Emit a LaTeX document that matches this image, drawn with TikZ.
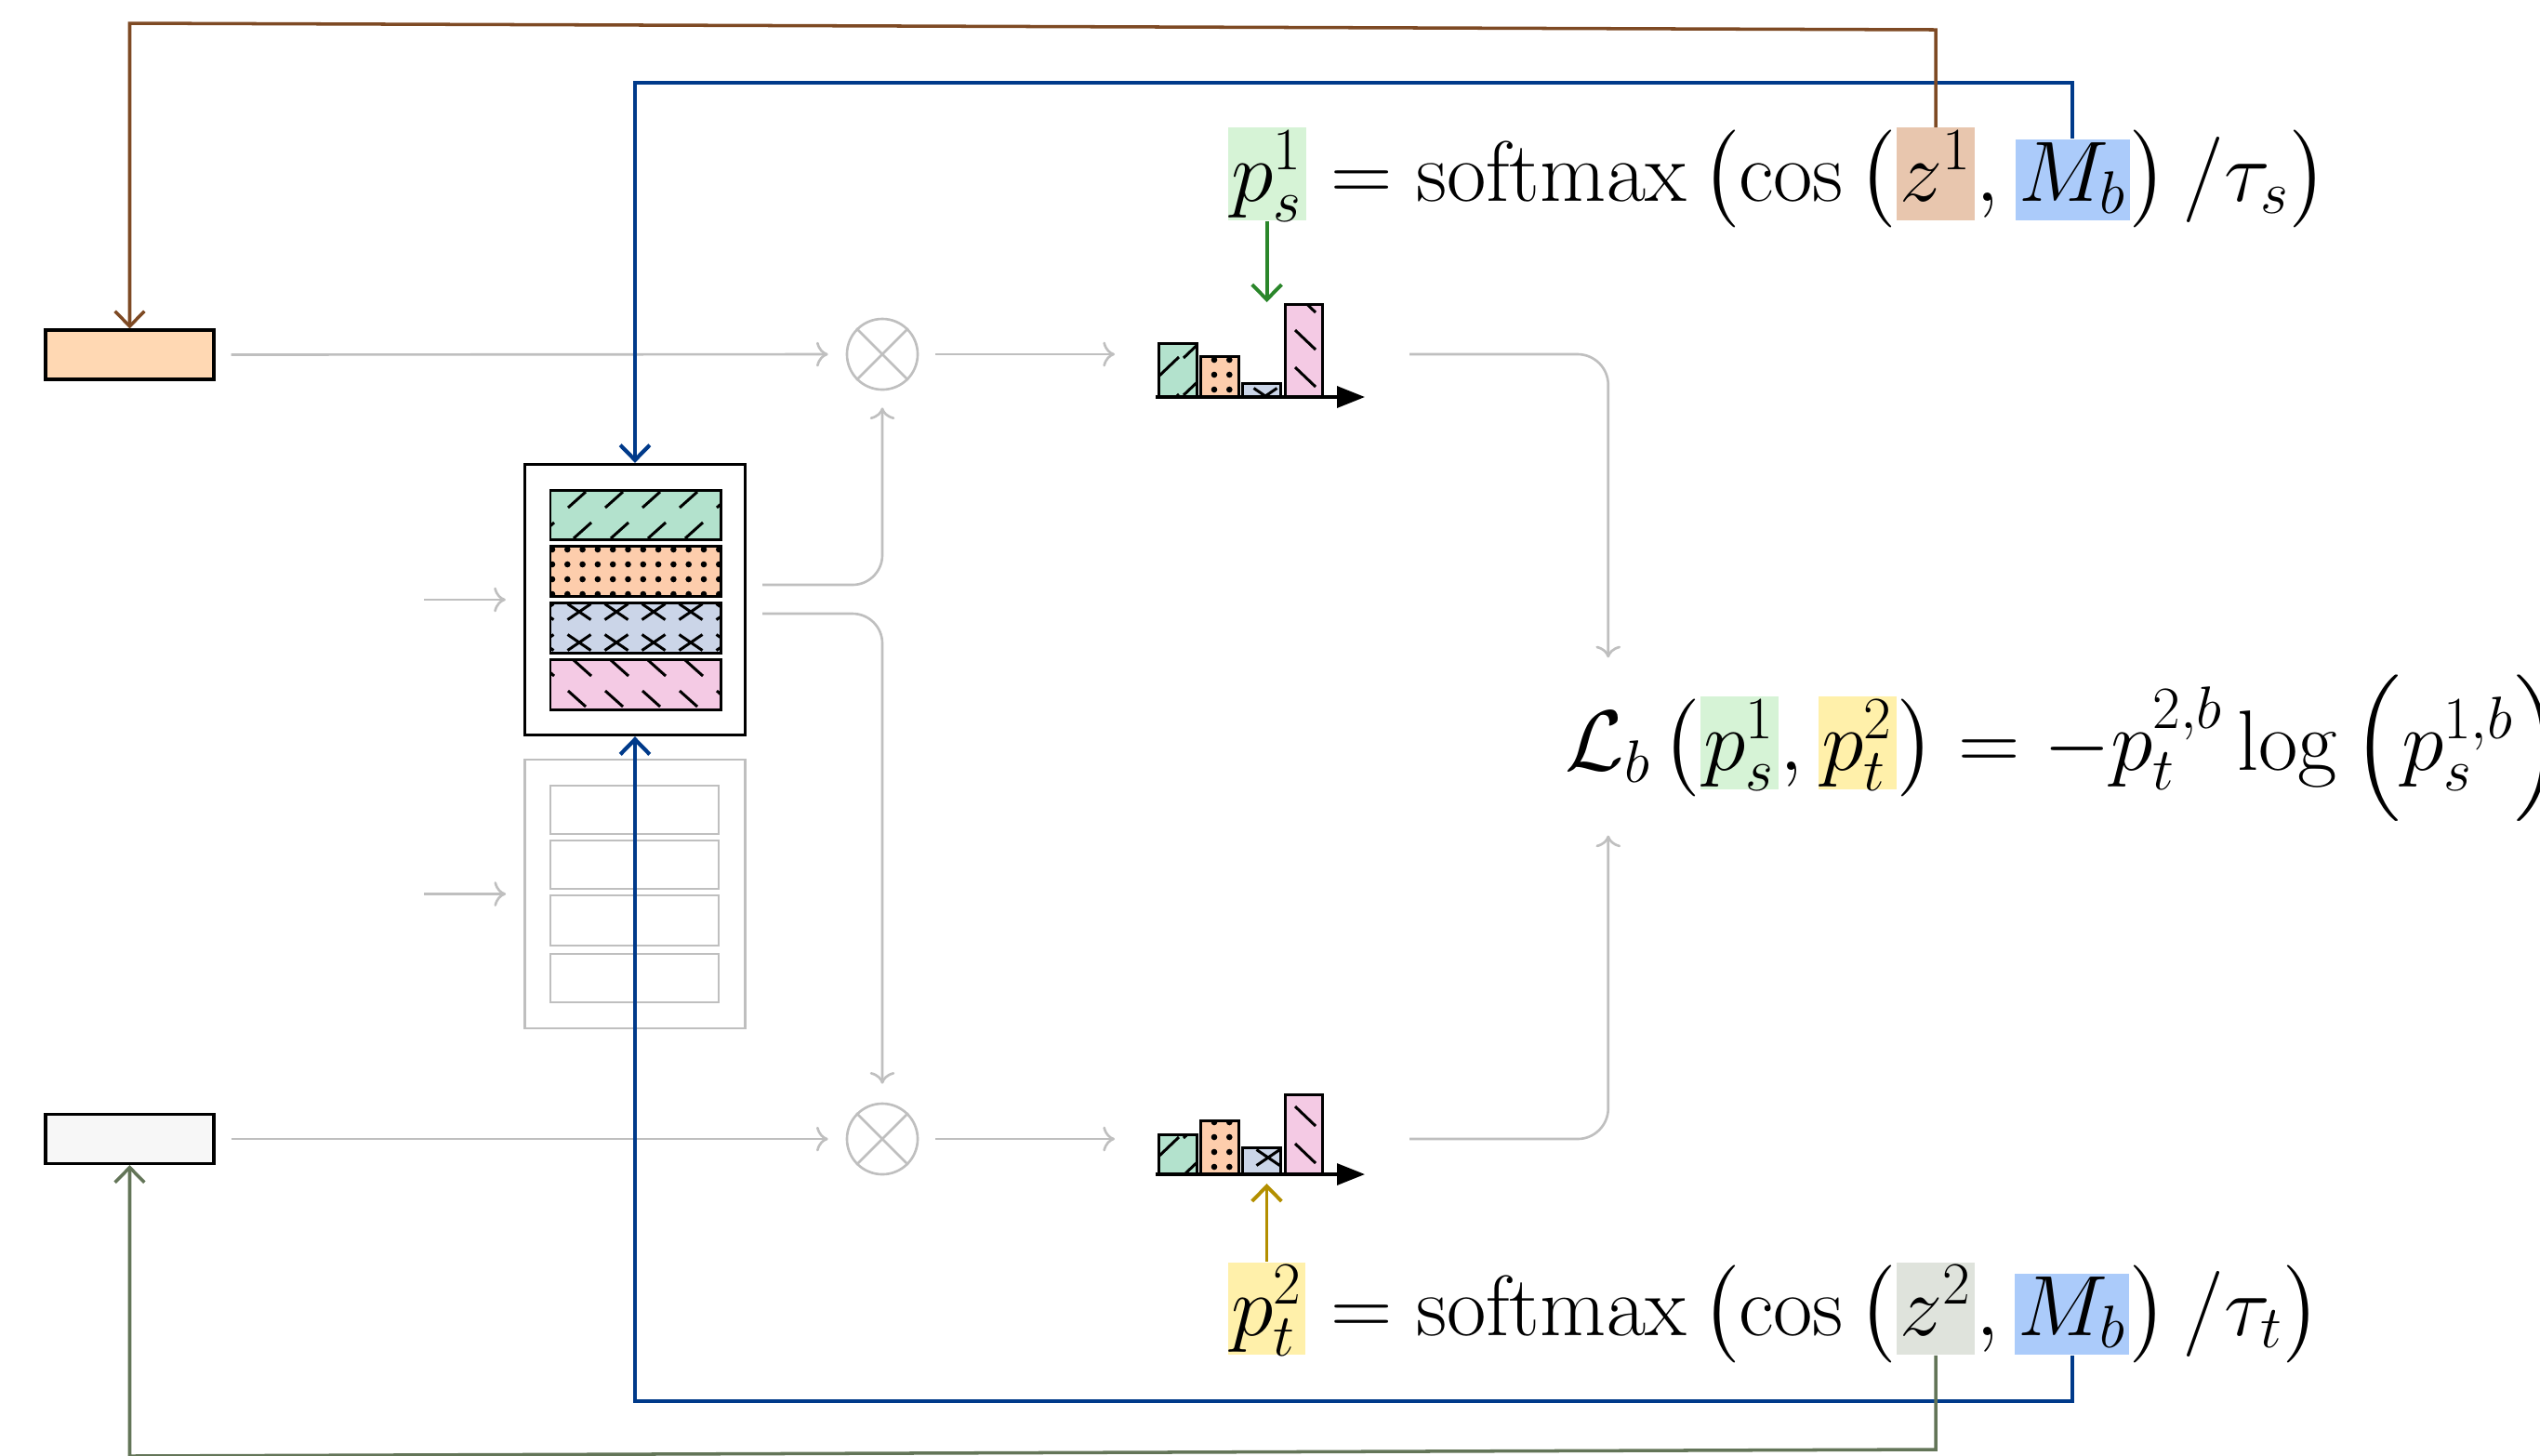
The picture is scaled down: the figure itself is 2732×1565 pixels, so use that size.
\RequirePackage{fix-cm}
\documentclass[tikz,border=0pt]{standalone}
\usepackage{amsmath}
\usetikzlibrary{arrows.meta}
\newcommand\fmfont{\fontsize{26.2}{37}\selectfont}
\definecolor{lgray}{RGB}{191,191,191}
\definecolor{pgreen}{HTML}{B3E2CD}
\definecolor{porange}{HTML}{FDCDAC}
\definecolor{pblue}{HTML}{CBD5E8}
\definecolor{ppink}{HTML}{F4CAE4}
\definecolor{inorange}{HTML}{FFD8B3}
\definecolor{ingray}{HTML}{F7F7F7}
\definecolor{cbrown}{HTML}{7E4A24}
\definecolor{cblue}{HTML}{003A8A}
\definecolor{cgreen}{HTML}{2A862A}
\definecolor{cgold}{HTML}{B38F00}
\definecolor{colive}{HTML}{637558}
\definecolor{hlgreen}{HTML}{D6F3D6}
\definecolor{hlyellow}{HTML}{FFF0AA}
\definecolor{hltan}{HTML}{E8C6AE}
\definecolor{hlgray}{HTML}{DFE3DC}
\definecolor{hlblue}{HTML}{ABCBFA}
% lattice parameters
\newcommand\latA{\def\lhx{40}\def\lsh{6}\def\lvy{33}\def\lsx{19}\def\lsy{17}}
\newcommand\latB{\def\lhx{54}\def\lsh{27}\def\lvy{20}\def\lsx{22}\def\lsy{21}}
% "/" strokes
\newcommand\pNE[6]{\begin{scope}\clip (#1,#2) rectangle (#3,#4);
  \foreach \j in {-2,...,6}{\foreach \i in {-5,...,5}{
    \draw[patln] ({#1+#5+\lhx*\i+\lsh*\j},{#2+#6+\lvy*\j}) -- ++(\lsx,-\lsy);}}
  \end{scope}}
% "\" strokes
\newcommand\pSE[6]{\begin{scope}\clip (#1,#2) rectangle (#3,#4);
  \foreach \j in {-2,...,6}{\foreach \i in {-5,...,5}{
    \draw[patln] ({#1+#5+\lhx*\i+\lsh*\j},{#2+#6+\lvy*\j}) -- ++(\lsx,\lsy);}}
  \end{scope}}
% crosses
\newcommand\pX[6]{\begin{scope}\clip (#1,#2) rectangle (#3,#4);
  \foreach \j in {-1,...,3}{\foreach \i in {-1,...,5}{
    \draw[patln] ({#1+#5+40*\i-12.5},{#2+#6+33*\j-8.5}) -- ++(25,17) ++(-25,0) -- ++(25,-17);}}
  \end{scope}}
% dots
\newcommand\pDots[6]{\begin{scope}\clip (#1,#2) rectangle (#3,#4);
  \foreach \j in {-1,...,4}{\foreach \i in {-1,...,12}{
    \fill ({#1+#5+16.3*\i},{#2+#6+16*\j}) circle[radius=0.033cm];}}
  \end{scope}}
\begin{document}
\begin{tikzpicture}[x=0.01cm,y=-0.01cm,
  gline/.style={draw=lgray, line width=0.75pt},
  garr/.style={gline, -{To[length=3.6pt,width=7.6pt]}},
  carr/.style={line width=1.1pt, -{Straight Barb[length=4.6pt,width=9pt]}},
  bx/.style={draw=black, line width=0.9pt},
  patln/.style={line width=0.85pt},
  rowln/.style={draw=black, line width=0.85pt},
  axisln/.style={line width=1pt, -{Triangle[length=8.5pt,width=6.5pt]}},
  fm/.style={inner sep=0pt, anchor=base west, font=\fmfont},
  hl/.style={inner xsep=1pt, inner ysep=1pt, text depth=5pt, anchor=base west, font=\fmfont}]
\useasboundingbox (0,0) rectangle (2732,1565);

% ---------- input boxes ----------
\node[bx, fill=inorange, minimum width=1.81cm, minimum height=0.53cm, inner sep=0pt] (inA) at (139.5,381.5) {};
\node[bx, fill=ingray, minimum width=1.81cm, minimum height=0.53cm, inner sep=0pt] (inB) at (139.5,1225) {};

% ---------- memory bank (active) ----------
\node[bx, minimum width=2.37cm, minimum height=2.91cm, inner sep=0pt] (mem) at (683,645) {};
\latA
\fill[pgreen] (592,527) rectangle (775,580);
\pNE{592}{527}{775}{580}{19}{19}
\draw[rowln] (592,527) rectangle (775,580);
\fill[porange] (592,587) rectangle (775,641);
\pDots{592}{587}{775}{641}{2}{4}
\draw[rowln] (592,587) rectangle (775,641);
\fill[pblue] (592,648) rectangle (775,702);
\pX{592}{648}{775}{702}{31}{10}
\draw[rowln] (592,648) rectangle (775,702);
\fill[ppink] (592,709) rectangle (775,763);
\def\lsh{-6}
\pSE{592}{709}{775}{763}{25}{1}
\draw[rowln] (592,709) rectangle (775,763);

% ---------- memory bank (faded) ----------
\node[gline, minimum width=2.37cm, minimum height=2.89cm, inner sep=0pt] (mem2) at (683,961.5) {};
\foreach \ya/\yb in {845/897,904/956,963/1017,1026/1078}
  \draw[gline] (592,\ya) rectangle (773,\yb);

% ---------- multiplication circles ----------
\node[gline, circle, minimum size=0.76cm, inner sep=0pt] (c1) at (949,381) {};
\draw[gline] (c1.45) -- (c1.225) (c1.135) -- (c1.315);
\node[gline, circle, minimum size=0.76cm, inner sep=0pt] (c2) at (949,1225) {};
\draw[gline] (c2.45) -- (c2.225) (c2.135) -- (c2.315);

% ---------- bar charts ----------
\latB
% top chart
\fill[pgreen] (1246,369) rectangle (1287,427);
\pNE{1246}{369}{1287}{427}{27}{16}
\draw[rowln] (1246,369) rectangle (1287,427);
\fill[porange] (1291,383) rectangle (1332,427);
\pDots{1291}{383}{1332}{427}{15}{4}
\draw[rowln] (1291,383) rectangle (1332,427);
\fill[pblue] (1336,412) rectangle (1377,427);
\pX{1336}{412}{1377}{427}{25}{14}
\draw[rowln] (1336,412) rectangle (1377,427);
\fill[ppink] (1382,327) rectangle (1422,427);
\def\lsh{0}\def\lvy{40}
\pSE{1382}{327}{1422}{427}{11}{28}
\draw[rowln] (1382,327) rectangle (1422,427);
\draw[axisln] (1243,427) -- (1468,427);
% bottom chart
\latB
\fill[pgreen] (1246,1220) rectangle (1287,1263);
\pNE{1246}{1220}{1287}{1263}{0}{24}
\draw[rowln] (1246,1220) rectangle (1287,1263);
\fill[porange] (1291,1205) rectangle (1332,1263);
\pDots{1291}{1205}{1332}{1263}{15}{2}
\draw[rowln] (1291,1205) rectangle (1332,1263);
\fill[pblue] (1336,1234) rectangle (1377,1263);
\pX{1336}{1234}{1377}{1263}{28}{11}
\draw[rowln] (1336,1234) rectangle (1377,1263);
\fill[ppink] (1382,1177) rectangle (1422,1263);
\def\lsh{0}\def\lvy{40}
\pSE{1382}{1177}{1422}{1263}{11}{13}
\draw[rowln] (1382,1177) rectangle (1422,1263);
\draw[axisln] (1243,1263) -- (1468,1263);

% ---------- formulas ----------
\node[hl, fill=hlgreen] (ps1) at (1320,216) {$p_s^1$};
\node[fm] (t2) at (ps1.base east) {${}=\mathrm{softmax}\,\bigl(\cos\,\bigl($};
\node[hl, fill=hltan] (z1) at (t2.base east) {$z^1$};
\node[fm] (t4) at (z1.base east) {$,\,$};
\node[hl, fill=hlblue] (Mb1) at (t4.base east) {$M_b$};
\node[fm] (t6) at (Mb1.base east) {$\bigr)\,/\tau_s\bigr)$};

\node[hl, fill=hlyellow] (pt2) at (1320,1436) {$p_t^2$};
\node[fm] (b2) at (pt2.base east) {${}=\mathrm{softmax}\,\bigl(\cos\,\bigl($};
\node[hl, fill=hlgray] (z2) at (b2.base east) {$z^2$};
\node[fm] (b4) at (z2.base east) {$,\,$};
\node[hl, fill=hlblue] (Mb2) at (b4.base east) {$M_b$};
\node[fm] (b6) at (Mb2.base east) {$\bigr)\,/\tau_t\bigr)$};

\node[fm] (Lsym) at (1683,828) {$\mathcal{L}_b$};
\node[fm] (l2) at (Lsym.base east) {$\mkern2mu\bigl($};
\node[hl, fill=hlgreen] (lps) at (l2.base east) {$p_s^1$};
\node[fm] (l4) at (lps.base east) {$,\,$};
\node[hl, fill=hlyellow] (lpt) at (l4.base east) {$p_t^2$};
\node[fm] (l6) at (lpt.base east) {$\bigr) = -p_t^{2,b}\log\,\Bigl(p_s^{1,b}\Bigr)$};

% ---------- gray connectors ----------
\coordinate (memin1) at (456,645);
\coordinate (memin2) at (456,961.5);
\draw[garr, shorten >=0.19cm] (memin1) -- (mem.west);
\draw[garr, shorten >=0.19cm] (memin2) -- (mem2.west);
\draw[garr, shorten <=0.17cm, shorten >=0.19cm] (inA.east) -- (c1.west);
\draw[garr, shorten <=0.17cm, shorten >=0.19cm] (inB.east) -- (c2.west);
\coordinate (ch1in) at (1199,381);
\coordinate (ch2in) at (1199,1225);
\draw[garr, shorten <=0.18cm] (c1.east) -- (ch1in);
\draw[garr, shorten <=0.18cm] (c2.east) -- (ch2in);
\draw[garr, rounded corners=0.32cm, shorten >=0.18cm] ([shift={(0.17cm,0.16cm)}]mem.east) -| (c1.south);
\draw[garr, rounded corners=0.32cm, shorten >=0.2cm] ([shift={(0.17cm,-0.15cm)}]mem.east) -| (c2.north);
\coordinate (ch1out) at (1516,381);
\coordinate (ch2out) at (1516,1225);
\draw[garr, rounded corners=0.33cm, shorten >=0.57cm] (ch1out) -| (Lsym.north);
\draw[garr, rounded corners=0.33cm, shorten >=0.56cm] (ch2out) -| (Lsym.south);

% ---------- colored connectors ----------
\coordinate (ch1top) at (1364,325);
\coordinate (ch2bot) at (1364,1273);
\draw[carr, cgreen] (ps1.south) -- (ps1.south |- ch1top);
\draw[carr, cgold] (pt2.north) -- (pt2.north |- ch2bot);

\coordinate (bTop) at (0,89);
\coordinate (bBot) at (0,1507);
\draw[carr, cblue, line width=1.2pt] (Mb1.north) -- (Mb1.north |- bTop) -- (mem.north |- bTop) -- (mem.north);
\draw[carr, cblue, line width=1.2pt] (Mb2.south) -- (Mb2.south |- bBot) -- (mem.south |- bBot) -- (mem.south);

\coordinate (brR) at (0,32);
\coordinate (brL) at (0,25);
\draw[carr, cbrown, line width=1pt] (z1.north) -- (z1.north |- brR) -- (inA.north |- brL) -- (inA.north);
\coordinate (olR) at (0,1559);
\coordinate (olL) at (0,1566);
\draw[carr, colive, line width=1pt] (z2.south) -- (z2.south |- olR) -- (inB.south |- olL) -- (inB.south);
\end{tikzpicture}
\end{document}
